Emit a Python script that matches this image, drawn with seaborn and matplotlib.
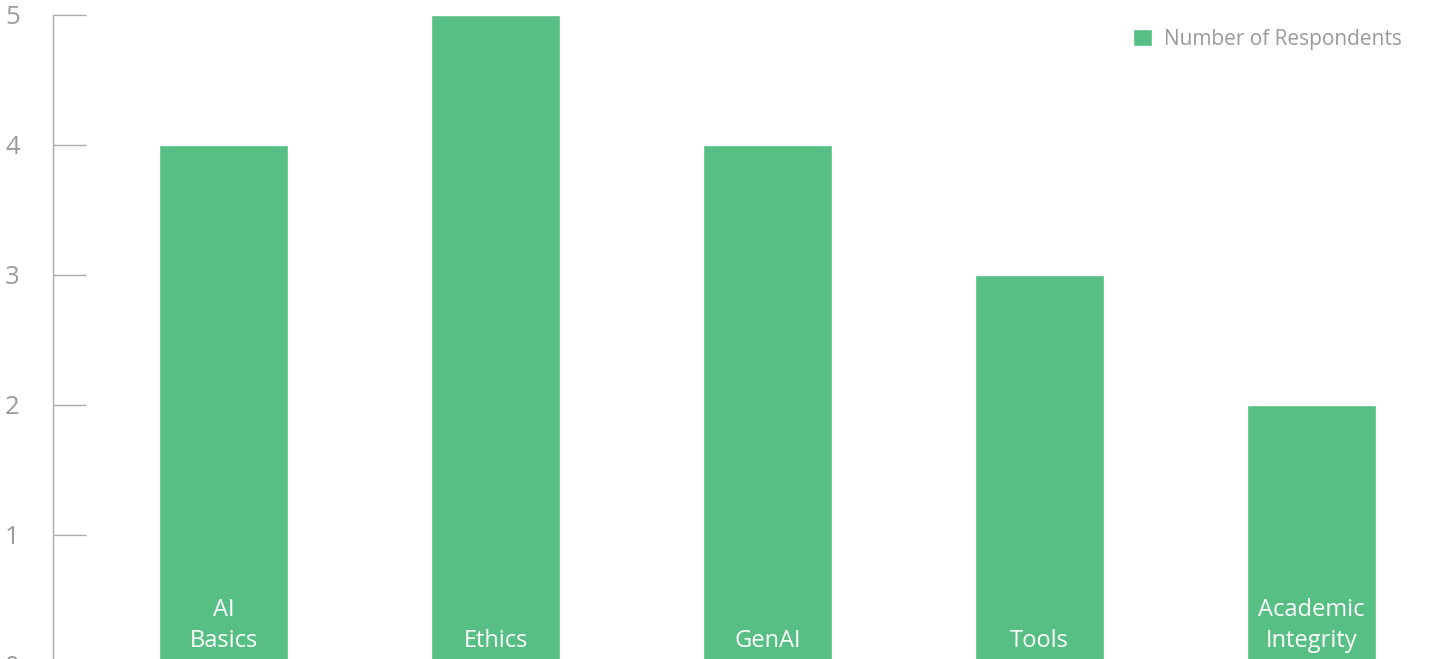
import matplotlib
matplotlib.use("Agg")
import matplotlib.pyplot as plt
import seaborn as sns
import pandas as pd
from matplotlib import font_manager

categories = ["AI\nBasics", "Ethics", "GenAI", "Tools", "Academic\nIntegrity"]
values = [4, 5, 4, 3, 2]
series_name = "Number of Respondents"
yticks = [0, 1, 2, 3, 4, 5]

sns.set_theme(style="white")
names = {f.name for f in font_manager.fontManager.ttflist}
fam = "Liberation Sans Narrow" if "Liberation Sans Narrow" in names else "Open Sans"
plt.rcParams['font.family'] = [fam, 'DejaVu Sans']

BAR = "#57BE84"
GRAY = "#9a9a9a"

fig = plt.figure(figsize=(14.53, 6.59), dpi=100)
ax = fig.add_axes([53/1453, 1 - 665/659, 1 - 53/1453, 650/659])

df = pd.DataFrame({"cat": categories, "val": values})
sns.barplot(data=df, x="cat", y="val", color=BAR, saturation=1, width=0.474,
            label=series_name, ax=ax)

ax.set_xlim(-0.627, 4.52)
ax.set_ylim(0, 5)
ax.set_yticks(yticks)
ax.set_yticklabels([str(t) for t in yticks])
ax.tick_params(axis="y", left=True, direction="in", length=24, width=1,
               color="#aaaaaa", pad=24, labelsize=18.5, labelcolor=GRAY)
ax.tick_params(axis="x", bottom=False, labelbottom=False)
ax.set_xlabel("")
ax.set_ylabel("")
for s in ["top", "right", "bottom"]:
    ax.spines[s].set_visible(False)
ax.spines["left"].set_color("#aaaaaa")
ax.spines["left"].set_linewidth(1)

for i, c in enumerate(categories):
    ax.text(i, 0.09, c, ha="center", va="bottom", color="white",
            fontsize=17, linespacing=1.4)

leg = ax.legend(loc="center right", frameon=False, fontsize=15,
                handlelength=0.9, handleheight=0.9, handletextpad=0.6,
                bbox_to_anchor=(1402/1453, 1 - 39/659),
                bbox_transform=fig.transFigure, borderaxespad=0, borderpad=0)
for t in leg.get_texts():
    t.set_color(GRAY)

fig.savefig("out.png", dpi=100)
